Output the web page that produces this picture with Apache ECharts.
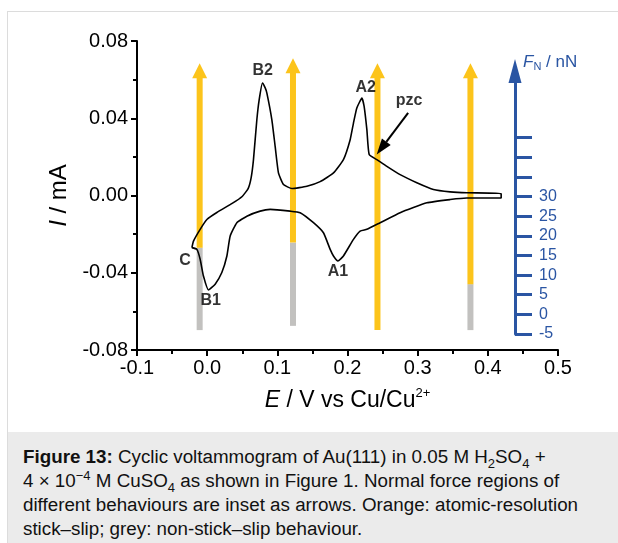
<!DOCTYPE html>
<html>
<head>
<meta charset="utf-8">
<script src="https://cdn.jsdelivr.net/npm/echarts@6/dist/echarts.min.js"></script>
<style>
  html, body { margin: 0; padding: 0; background: #fff; }
  body { width: 618px; height: 543px; position: relative; overflow: hidden; font-family: "Liberation Sans", Arial, sans-serif; }
  #frame { position: absolute; left: 7px; top: 11px; width: 620px; height: 540px; border-top: 1px solid #dcdcdc; border-left: 1px solid #dcdcdc; }
  #chart { position: absolute; left: 0; top: 0; width: 618px; height: 543px; }
  #cap { position: absolute; left: 8px; top: 432px; width: 610px; height: 111px; background: #ebebeb;
         box-sizing: border-box; padding: 13px 0 0 15px; font-size: 18.8px; line-height: 24px; color: #111; white-space: nowrap; }
  #cap sub, #cap sup { font-size: 13px; line-height: 0; }
</style>
</head>
<body>
<div id="frame"></div>
<div id="cap"><b>Figure 13:</b> Cyclic voltammogram of Au(111) in 0.05 M H<sub>2</sub>SO<sub>4</sub> +<br>4 × 10<sup>−4</sup> M CuSO<sub>4</sub> as shown in Figure 1. Normal force regions of<br>different behaviours are inset as arrows. Orange: atomic-resolution<br>stick–slip; grey: non-stick–slip behaviour.</div>
<div id="chart"></div>
<script>
// Cyclic voltammogram: potential E (V) and current I (mA), in scan order
const potential = [-0.0218,-0.0195,-0.0100,-0.0004,0.0138,0.0356,0.0499,0.0584,0.0627,0.0660,0.0708,0.0741,0.0788,0.0827,0.0851,0.0922,0.0969,0.1016,0.1087,0.1207,0.1421,0.1610,0.1800,0.1942,0.2038,0.2085,0.2133,0.2205,0.2237,0.2276,0.2309,0.2418,0.2561,0.2750,0.2988,0.3225,0.3463,0.3701,0.4190,
  0.4190,0.3701,0.3463,0.3131,0.2750,0.2465,0.2276,0.2180,0.2085,0.1942,0.1863,0.1800,0.1753,0.1657,0.1515,0.1325,0.1183,0.0898,0.0755,0.0566,0.0423,0.0328,0.0281,0.0209,0.0114,0.0019,-0.0053,-0.0100,-0.0147,-0.0218];
const current = [-0.0270,-0.0236,-0.0175,-0.0124,-0.0088,-0.0041,-0.0005,0.0036,0.0093,0.0186,0.0392,0.0495,0.0582,0.0557,0.0530,0.0392,0.0254,0.0117,0.0057,0.0036,0.0048,0.0072,0.0117,0.0186,0.0289,0.0375,0.0453,0.0504,0.0461,0.0341,0.0212,0.0186,0.0151,0.0108,0.0066,0.0031,0.0019,0.0014,0.0010,
  -0.0013,-0.0013,-0.0021,-0.0038,-0.0089,-0.0141,-0.0175,-0.0184,-0.0227,-0.0313,-0.0339,-0.0313,-0.0279,-0.0193,-0.0141,-0.0089,-0.0081,-0.0072,-0.0081,-0.0107,-0.0141,-0.0210,-0.0313,-0.0399,-0.0459,-0.0489,-0.0417,-0.0330,-0.0279,-0.0270];

// Force-region arrows: position (V), bottom, grey/orange boundary, tip (in current-axis units)
const arrowPotential = [-0.0107, 0.1223, 0.2427, 0.3752];
const arrowBottom    = [-0.0697, -0.0675, -0.0697, -0.0697];
const arrowBoundary  = [-0.0270, -0.0244, -0.0697, -0.0459];
const arrowTip       = [0.0685, 0.0711, 0.0685, 0.0685];

// Peak labels
const peakNames = ['B2', 'A2', 'C', 'B1', 'A1', 'pzc'];
const peakE     = [0.0791, 0.2259, -0.0314, 0.0050, 0.1864, 0.2879];
const peakI     = [0.0645, 0.0560, -0.0335, -0.0545, -0.0395, 0.0490];

// pzc pointer: from (E,I) to (E,I)
const pzcFrom = [0.2864, 0.0428];
const pzcTo   = [0.2416, 0.0212];

// Axis ticks
const xTicks = { min: -0.1, max: 0.5, step: 0.1 };
const yTicks = { min: -0.08, max: 0.08, step: 0.04 };
const forceTickValues  = [-5, 0, 5, 10, 15, 20, 25, 30, 35, 40, 45];
const forceLabelValues = [-5, 0, 5, 10, 15, 20, 25, 30];

const FONT = '"Liberation Sans", Arial, sans-serif';
const BLUE = '#2a55a3';
const ORANGE = '#fcc41b';
const GREY = '#c2c1bf';

const cvData = potential.map((e, i) => [e, current[i]]);
const arrowData = arrowPotential.map((e, i) => [e, arrowBottom[i], arrowBoundary[i], arrowTip[i]]);
const labelData = peakNames.map((n, i) => ({ name: n, value: [peakE[i], peakI[i]] }));

const chart = echarts.init(document.getElementById('chart'), null, { renderer: 'canvas' });

chart.setOption({
  animation: false,
  backgroundColor: 'transparent',
  textStyle: { fontFamily: FONT },
  grid: [
    { left: 137, right: 60, top: 41, bottom: 193 },
    { left: 515, width: 60, top: 71, bottom: 209 }
  ],
  xAxis: [{
    gridIndex: 0, type: 'value', min: xTicks.min, max: xTicks.max, interval: xTicks.step,
    axisLine: { onZero: false, lineStyle: { color: '#000', width: 2 } },
    axisTick: { length: 6, lineStyle: { width: 2, color: '#000' } },
    minorTick: { show: true, splitNumber: 2, length: 4, lineStyle: { width: 2, color: '#000' } },
    splitLine: { show: false },
    axisLabel: { fontSize: 20, color: '#000', margin: 8, fontFamily: FONT, formatter: v => v.toFixed(1) },
    name: '{i|E} / V vs Cu/Cu{sup|2+}',
    nameLocation: 'middle', nameGap: 37,
    nameTextStyle: {
      fontSize: 23, color: '#000', fontFamily: FONT,
      rich: {
        i: { fontSize: 23, fontStyle: 'italic', fontFamily: FONT, color: '#000' },
        sup: { fontSize: 13, fontFamily: FONT, color: '#000', padding: [0, 0, 14, 0] }
      }
    }
  }, {
    gridIndex: 1, type: 'value', show: false, min: 0, max: 1
  }],
  yAxis: [{
    gridIndex: 0, type: 'value', min: yTicks.min, max: yTicks.max, interval: yTicks.step,
    axisLine: { show: true, onZero: false, lineStyle: { color: '#000', width: 2 } },
    axisTick: { show: true, length: 6, lineStyle: { width: 2, color: '#000' } },
    minorTick: { show: true, splitNumber: 2, length: 4, lineStyle: { width: 2, color: '#000' } },
    splitLine: { show: false },
    axisLabel: { fontSize: 20, color: '#000', margin: 9, fontFamily: FONT, formatter: v => v.toFixed(2) },
    name: '{i|I} / mA',
    nameLocation: 'middle', nameGap: 58,
    nameTextStyle: {
      fontSize: 24, color: '#000', fontFamily: FONT,
      rich: { i: { fontSize: 24, fontStyle: 'italic', fontFamily: FONT, color: '#000' } }
    }
  }, {
    gridIndex: 1, type: 'value', min: -5, max: 62, position: 'left',
    axisLine: { show: true, onZero: false, symbol: ['none', 'triangle'], symbolSize: [13, 24], lineStyle: { color: BLUE, width: 3 } },
    axisTick: { show: true, inside: true, length: 17, customValues: forceTickValues, lineStyle: { color: BLUE, width: 3 } },
    axisLabel: { show: true, inside: true, margin: 24, fontSize: 16, color: BLUE, fontFamily: FONT, customValues: forceLabelValues },
    splitLine: { show: false },
    name: '{i|F}{sub|N} / nN',
    nameLocation: 'end', nameGap: 9,
    nameTextStyle: {
      fontSize: 17, color: BLUE, fontFamily: FONT, align: 'left', verticalAlign: 'middle', padding: [0, 0, 0, 8],
      rich: {
        i: { fontSize: 17, fontStyle: 'italic', color: BLUE, fontFamily: FONT },
        sub: { fontSize: 11, color: BLUE, fontFamily: FONT, padding: [10, 0, 0, 0] }
      }
    }
  }],
  series: [
    {
      type: 'custom', xAxisIndex: 0, yAxisIndex: 0, z: 2,
      data: arrowData,
      renderItem: function (params, api) {
        const x = api.value(0);
        const pB = api.coord([x, api.value(1)]);
        const pM = api.coord([x, api.value(2)]);
        const pT = api.coord([x, api.value(3)]);
        const w = 6, hw = 7.5, hh = 15;
        const children = [];
        if (pB[1] - pM[1] > 0.5) {
          children.push({ type: 'rect', shape: { x: pB[0] - w / 2, y: pM[1], width: w, height: pB[1] - pM[1] }, style: { fill: GREY } });
        }
        children.push({ type: 'rect', shape: { x: pB[0] - w / 2, y: pT[1] + hh - 1, width: w, height: pM[1] - pT[1] - hh + 1 }, style: { fill: ORANGE } });
        children.push({ type: 'polygon', shape: { points: [[pT[0], pT[1]], [pT[0] - hw, pT[1] + hh], [pT[0] + hw, pT[1] + hh]] }, style: { fill: ORANGE } });
        return { type: 'group', children: children };
      }
    },
    {
      type: 'line', xAxisIndex: 0, yAxisIndex: 0, z: 5,
      data: cvData, showSymbol: false, smooth: 0.15,
      lineStyle: { color: '#000', width: 1.6 }
    },
    {
      type: 'custom', xAxisIndex: 0, yAxisIndex: 0, z: 6,
      data: [[pzcFrom[0], pzcFrom[1], pzcTo[0], pzcTo[1]]],
      renderItem: function (params, api) {
        const a = api.coord([api.value(0), api.value(1)]);
        const b = api.coord([api.value(2), api.value(3)]);
        const dx = b[0] - a[0], dy = b[1] - a[1];
        const len = Math.sqrt(dx * dx + dy * dy);
        const ux = dx / len, uy = dy / len;
        const hl = 16, hw = 5.5;
        const base = [b[0] - ux * hl, b[1] - uy * hl];
        return {
          type: 'group', children: [
            { type: 'line', shape: { x1: a[0], y1: a[1], x2: base[0], y2: base[1] }, style: { stroke: '#000', lineWidth: 2 } },
            { type: 'polygon', shape: { points: [b, [base[0] - uy * hw, base[1] + ux * hw], [base[0] + uy * hw, base[1] - ux * hw]] }, style: { fill: '#000' } }
          ]
        };
      }
    },
    {
      type: 'scatter', xAxisIndex: 0, yAxisIndex: 0, z: 7,
      data: labelData, symbolSize: 0, silent: true,
      label: { show: true, position: 'inside', formatter: p => p.name, fontSize: 16, fontWeight: 'bold', color: '#000', fontFamily: FONT }
    }
  ]
});
</script>
</body>
</html>
